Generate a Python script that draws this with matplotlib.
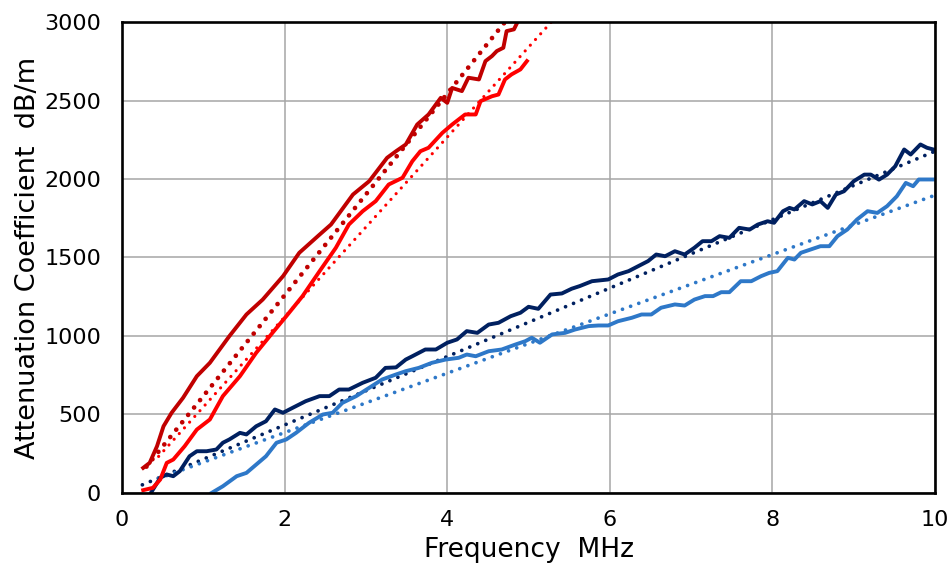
import matplotlib
matplotlib.use("Agg")
import matplotlib.pyplot as plt

# solid measured curves (frequency MHz, attenuation dB/m)
dark_red_x = [0.26, 0.34, 0.43, 0.51, 0.61, 0.75, 0.92, 1.08, 1.32, 1.53, 1.73, 1.98,
              2.18, 2.43, 2.57, 2.84, 3.04, 3.26, 3.37, 3.49, 3.63, 3.77, 3.92, 4.00,
              4.06, 4.18, 4.26, 4.39, 4.47, 4.55, 4.61, 4.69, 4.73, 4.82, 4.88, 4.95]
dark_red_y = [160, 192, 298, 425, 511, 606, 744, 829, 999, 1137, 1232, 1381,
              1530, 1646, 1710, 1901, 1986, 2135, 2177, 2220, 2347, 2411, 2517, 2485,
              2580, 2560, 2645, 2634, 2751, 2783, 2815, 2836, 2942, 2953, 3016, 3080]

red_x = [0.26, 0.38, 0.47, 0.55, 0.63, 0.77, 0.92, 1.08, 1.24, 1.45, 1.65, 1.85,
         2.02, 2.22, 2.43, 2.63, 2.79, 2.96, 3.12, 3.28, 3.45, 3.57, 3.67, 3.77,
         3.94, 4.06, 4.22, 4.35, 4.41, 4.55, 4.63, 4.71, 4.79, 4.90, 4.98]
red_y = [18, 33, 86, 192, 213, 298, 404, 468, 617, 744, 893, 1020,
         1126, 1254, 1413, 1562, 1710, 1795, 1859, 1965, 2008, 2113, 2177, 2199,
         2294, 2347, 2411, 2411, 2496, 2527, 2538, 2634, 2666, 2698, 2751]

navy_x = [0.36, 0.47, 0.55, 0.63, 0.71, 0.83, 0.92, 1.04, 1.16, 1.24, 1.32, 1.45,
          1.53, 1.65, 1.77, 1.88, 1.98, 2.10, 2.26, 2.43, 2.55, 2.67, 2.79, 2.96,
          3.12, 3.24, 3.37, 3.49, 3.57, 3.73, 3.86, 4.00, 4.12, 4.24, 4.37, 4.51,
          4.63, 4.78, 4.90, 5.00, 5.12, 5.27, 5.41, 5.53, 5.63, 5.78, 5.98, 6.10,
          6.23, 6.35, 6.47, 6.57, 6.68, 6.80, 6.92, 7.04, 7.14, 7.25, 7.35, 7.47,
          7.59, 7.72, 7.82, 7.94, 8.02, 8.13, 8.21, 8.27, 8.39, 8.49, 8.59, 8.68,
          8.78, 8.88, 9.00, 9.13, 9.21, 9.31, 9.41, 9.51, 9.62, 9.70, 9.82, 9.90, 9.98]
navy_y = [5, 97, 118, 107, 139, 234, 266, 266, 277, 320, 341, 383,
          373, 425, 457, 532, 511, 543, 585, 617, 617, 659, 659, 702,
          734, 797, 800, 850, 871, 914, 914, 957, 978, 1031, 1020, 1073,
          1084, 1126, 1148, 1186, 1173, 1264, 1271, 1301, 1318, 1349, 1360, 1392,
          1413, 1445, 1477, 1519, 1508, 1540, 1519, 1562, 1604, 1604, 1636, 1625,
          1689, 1678, 1710, 1731, 1721, 1795, 1816, 1806, 1859, 1838, 1859, 1816,
          1901, 1922, 1986, 2028, 2028, 1996, 2028, 2081, 2188, 2156, 2220, 2199, 2188]

blue_x = [1.10, 1.24, 1.41, 1.53, 1.65, 1.77, 1.90, 2.02, 2.14, 2.30, 2.47, 2.59,
          2.71, 2.88, 3.04, 3.20, 3.37, 3.49, 3.65, 3.81, 3.98, 4.14, 4.24, 4.35,
          4.51, 4.67, 4.84, 4.96, 5.04, 5.14, 5.29, 5.45, 5.57, 5.74, 5.86, 5.98,
          6.10, 6.27, 6.39, 6.51, 6.63, 6.80, 6.92, 7.04, 7.17, 7.27, 7.37, 7.47,
          7.61, 7.74, 7.86, 7.96, 8.06, 8.19, 8.27, 8.35, 8.47, 8.59, 8.70, 8.80,
          8.92, 9.04, 9.17, 9.29, 9.41, 9.53, 9.64, 9.73, 9.80, 9.88, 9.98]
blue_y = [0, 43, 107, 128, 181, 234, 320, 341, 383, 447, 500, 511,
          574, 617, 670, 723, 755, 776, 797, 829, 850, 861, 882, 871,
          903, 914, 946, 967, 989, 957, 1010, 1020, 1041, 1063, 1067, 1067,
          1094, 1116, 1137, 1137, 1180, 1201, 1194, 1232, 1254, 1254, 1279, 1279,
          1349, 1349, 1381, 1402, 1413, 1498, 1487, 1530, 1551, 1572, 1572, 1636,
          1678, 1742, 1795, 1784, 1827, 1890, 1975, 1954, 1997, 1997, 1997]

# dotted linear trend lines (end points)
dark_red_fit_x = [0.30, 4.71]
dark_red_fit_y = [168, 3000]
red_fit_x = [0.45, 5.28]
red_fit_y = [233, 3000]
navy_fit_x = [0.25, 10.0]
navy_fit_y = [52, 2177]
blue_fit_x = [0.45, 10.0]
blue_fit_y = [92, 1897]

x_ticks = [0, 2, 4, 6, 8, 10]
y_ticks = [0, 500, 1000, 1500, 2000, 2500, 3000]

plt.rcParams['font.family'] = ['DejaVu Sans']

fig = plt.figure(figsize=(9.52, 5.70), dpi=100)
ax = fig.add_axes([0.1282, 0.1351, 0.854, 0.8263])

c_dark_red = '#C00000'
c_red = '#FF0000'
c_navy = '#002060'
c_blue = '#2E78C8'

lw = 2.8
ax.plot(navy_fit_x, navy_fit_y, color=c_navy, lw=2.7, linestyle=(0, (0.01, 2.3)),
        dash_capstyle='round')
ax.plot(blue_fit_x, blue_fit_y, color=c_blue, lw=2.7, linestyle=(0, (0.01, 2.3)),
        dash_capstyle='round')
ax.plot(dark_red_fit_x, dark_red_fit_y, color=c_dark_red, lw=3.4,
        linestyle=(0, (0.01, 2.0)), dash_capstyle='round')
ax.plot(red_fit_x, red_fit_y, color=c_red, lw=2.3, linestyle=(0, (0.01, 2.4)),
        dash_capstyle='round')

ax.plot(navy_x, navy_y, color=c_navy, lw=lw, solid_joinstyle='round')
ax.plot(blue_x, blue_y, color=c_blue, lw=lw, solid_joinstyle='round')
ax.plot(dark_red_x, dark_red_y, color=c_dark_red, lw=lw, solid_joinstyle='round')
ax.plot(red_x, red_y, color=c_red, lw=lw, solid_joinstyle='round')

ax.set_xlim(0, 10)
ax.set_ylim(0, 3000)
ax.set_xticks(x_ticks)
ax.set_yticks(y_ticks)
ax.grid(True, color='#A6A6A6', lw=1.1)
ax.set_axisbelow(True)
ax.tick_params(length=0, labelsize=16, colors='black')
ax.tick_params(axis='x', pad=12)
ax.tick_params(axis='y', pad=15)
for s in ax.spines.values():
    s.set_linewidth(1.9)
    s.set_color('black')

ax.set_xlabel('Frequency  MHz', fontsize=19)
ax.set_ylabel('Attenuation Coefficient  dB/m', fontsize=19.5)
ax.xaxis.set_label_coords(0.5, -0.094)
ax.yaxis.set_label_coords(-0.10, 0.5)

fig.savefig('out.png', dpi=100)
